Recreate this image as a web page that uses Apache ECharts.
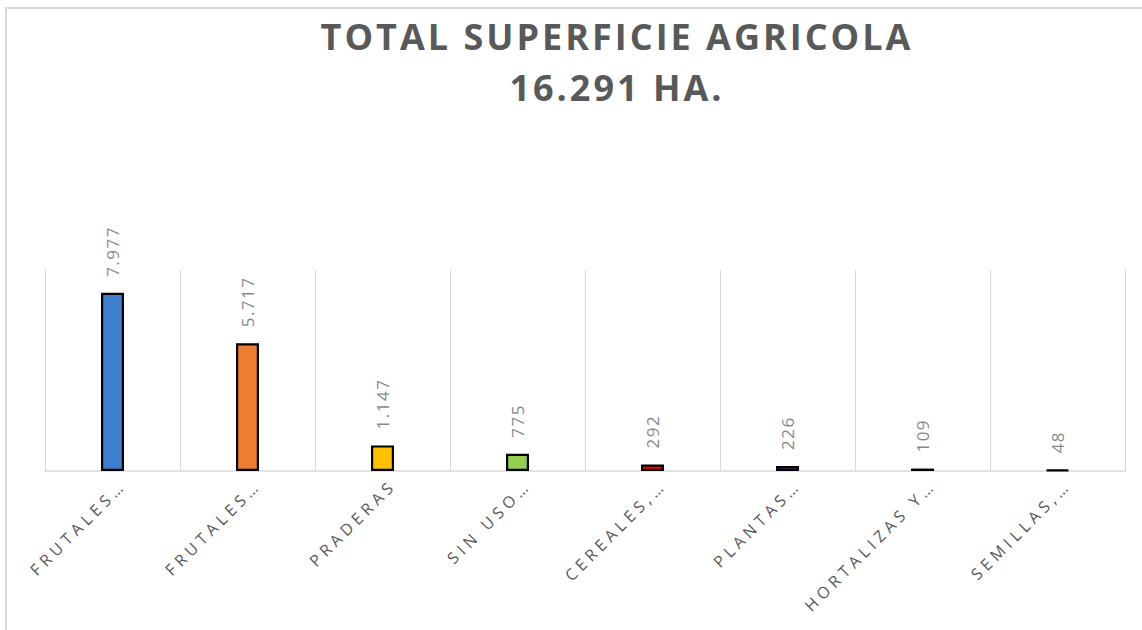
<!DOCTYPE html>
<html>
<head>
<meta charset="utf-8">
<script src="https://cdn.jsdelivr.net/npm/echarts@6/dist/echarts.min.js"></script>
<style>
  html, body { margin: 0; padding: 0; background: #ffffff; }
  #chart { width: 1142px; height: 630px; }
</style>
</head>
<body>
<div id="chart"></div>
<script>
const titleText = 'TOTAL SUPERFICIE AGRICOLA\n16.291 HA.';
const categories = ['FRUTALES…', 'FRUTALES…', 'PRADERAS', 'SIN USO…', 'CEREALES,…', 'PLANTAS…', 'HORTALIZAS Y…', 'SEMILLAS,…'];
const values = [7977, 5717, 1147, 775, 292, 226, 109, 48];
const valueLabels = ['7.977', '5.717', '1.147', '775', '292', '226', '109', '48'];
const barColors = ['#3F7FD0', '#ED7D31', '#FFC000', '#92D050', '#FF0000', '#7030A0', '#404040', '#262626'];

const chart = echarts.init(document.getElementById('chart'), null, { renderer: 'svg' });
const option = {
  backgroundColor: '#ffffff',
  animation: false,
  title: {
    text: titleText,
    left: 612,
    top: 6,
    textAlign: 'center',
    textStyle: {
      fontFamily: 'Open Sans',
      fontWeight: 'bold',
      fontSize: 36,
      lineHeight: 51,
      color: '#595959'
    }
  },
  graphic: [{
    type: 'rect',
    silent: true,
    z: -10,
    shape: { x: 6, y: 8, width: 1200, height: 700 },
    style: { fill: 'none', stroke: '#D9D9D9', lineWidth: 2 }
  }],
  grid: { left: 45, right: 17, top: 270, bottom: 159 },
  xAxis: {
    type: 'category',
    data: categories,
    boundaryGap: true,
    axisLine: { show: true, lineStyle: { color: '#D9D9D9', width: 1.5 } },
    axisTick: { show: false },
    splitLine: { show: true, interval: 0, lineStyle: { color: '#D9D9D9', width: 1 } },
    axisLabel: {
      interval: 0,
      rotate: 45,
      margin: 22,
      padding: [0, -15, 0, 0],
      fontFamily: 'Open Sans',
      fontSize: 16,
      color: '#595959'
    }
  },
  yAxis: {
    type: 'value',
    min: 0,
    max: 9000,
    show: false,
    splitLine: { show: false }
  },
  series: [{
    type: 'bar',
    barWidth: 23,
    data: values.map((v, i) => ({
      value: v,
      itemStyle: { color: barColors[i] }
    })),
    itemStyle: { borderColor: '#000000', borderWidth: 2.2 },
    label: {
      show: true,
      position: 'top',
      rotate: 90,
      align: 'left',
      verticalAlign: 'middle',
      distance: 16,
      fontFamily: 'Open Sans',
      fontSize: 17,
      color: '#898989',
      formatter: p => valueLabels[p.dataIndex]
    }
  }]
};
chart.setOption(option);

function applySpacing() {
  document.querySelectorAll('#chart svg text').forEach(t => {
    const fs = parseFloat(getComputedStyle(t).fontSize);
    if (fs >= 30) t.style.letterSpacing = '3px';
    else if (fs >= 17) t.style.letterSpacing = '1.5px';
    else t.style.letterSpacing = '4.5px';
  });
}
chart.on('finished', applySpacing);
applySpacing();
</script>
</body>
</html>
